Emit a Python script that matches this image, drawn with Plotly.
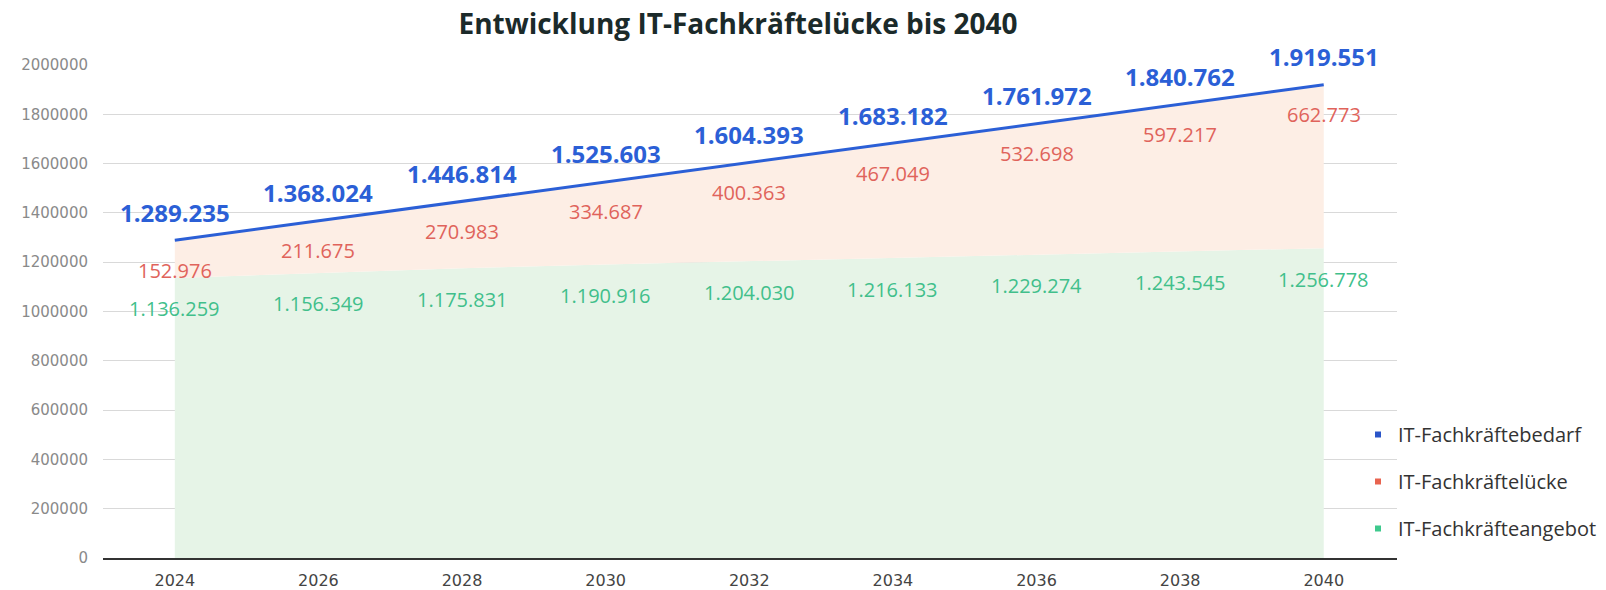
import plotly.graph_objects as go

years = [2024, 2026, 2028, 2030, 2032, 2034, 2036, 2038, 2040]
bedarf = [1289235, 1368024, 1446814, 1525603, 1604393, 1683182, 1761972, 1840762, 1919551]
luecke = [152976, 211675, 270983, 334687, 400363, 467049, 532698, 597217, 662773]
angebot = [1136259, 1156349, 1175831, 1190916, 1204030, 1216133, 1229274, 1243545, 1256778]
y_ticks = [0, 200000, 400000, 600000, 800000, 1000000, 1200000, 1400000, 1600000, 1800000, 2000000]

title_text = "Entwicklung IT-Fachkräftelücke bis 2040"
names = ["IT-Fachkräftebedarf", "IT-Fachkräftelücke", "IT-Fachkräfteangebot"]

BLUE = "#2b5fd6"
RED = "#e0635b"
GREEN = "#41bf8b"
FILL_ORANGE = "#fdeee5"
FILL_GREEN = "#e6f4e7"


def de(n):
    return f"{n:,}".replace(",", ".")


fig = go.Figure()

# supply area (0 -> supply)
fig.add_trace(go.Scatter(x=years, y=angebot, mode="lines", line=dict(width=0, color=FILL_GREEN),
                         fill="tozeroy", fillcolor=FILL_GREEN, showlegend=False, hoverinfo="skip"))
# gap area (supply -> demand)
fig.add_trace(go.Scatter(x=years, y=bedarf, mode="lines", line=dict(width=0, color=FILL_ORANGE),
                         fill="tonexty", fillcolor=FILL_ORANGE, showlegend=False, hoverinfo="skip"))
# demand line
fig.add_trace(go.Scatter(x=years, y=bedarf, mode="lines", line=dict(width=3, color=BLUE),
                         showlegend=False, hoverinfo="skip"))

# legend-only traces
for nm, col, grp in zip(names, ["#2a55c8", "#e8634f", "#3ec98d"], ["a", "b", "c"]):
    fig.add_trace(go.Scatter(x=[None], y=[None], mode="markers", name=nm, legendgroup=grp,
                             marker=dict(symbol="square", size=6, color=col)))

annotations = []
for x, b, l, a in zip(years, bedarf, luecke, angebot):
    annotations.append(dict(x=x, y=b, xref="x", yref="y", text=de(b), showarrow=False,
                            yshift=28, font=dict(family="Open Sans", size=24, color=BLUE, weight="bold")))
    annotations.append(dict(x=x, y=b, xref="x", yref="y", text=de(l), showarrow=False,
                            yshift=-30, font=dict(family="Open Sans", size=20, color=RED)))
    annotations.append(dict(x=x, y=a, xref="x", yref="y", text=de(a), showarrow=False,
                            yshift=-31, font=dict(family="Open Sans", size=20, color=GREEN)))

fig.update_layout(
    width=1606, height=590,
    margin=dict(l=103, r=209, t=65, b=32, autoexpand=False),
    paper_bgcolor="white", plot_bgcolor="white",
    title=dict(text=title_text, x=738 / 1606, xanchor="center", y=1 - 24 / 590, yanchor="middle",
               font=dict(family="Open Sans", size=28, color="#1b2a2a", weight="bold")),
    xaxis=dict(range=[2023, 2041.02], tickvals=years, ticktext=[str(y) for y in years],
               showgrid=False, zeroline=False, showline=True, linecolor="#333333", linewidth=2,
               ticks="", tickfont=dict(family="DejaVu Sans", size=16, color="#444444"),
               ticklabelstandoff=7),
    yaxis=dict(range=[0, 2000000], tickvals=y_ticks, ticktext=[str(v) for v in y_ticks],
               showgrid=True, gridcolor="#d9d9d9", gridwidth=1, zeroline=False, showline=False,
               ticks="", tickfont=dict(family="DejaVu Sans", size=15, color="#8a8a8a"),
               ticklabelstandoff=14),
    legend=dict(xref="container", yref="container", x=1358 / 1606, y=1 - 415 / 590,
                xanchor="left", yanchor="top", traceorder="grouped", tracegroupgap=18,
                font=dict(family="Open Sans", size=20, color="#333333"), bgcolor="rgba(0,0,0,0)",
                itemwidth=30),
    annotations=annotations,
    showlegend=True,
)

fig.write_html("out.html")
